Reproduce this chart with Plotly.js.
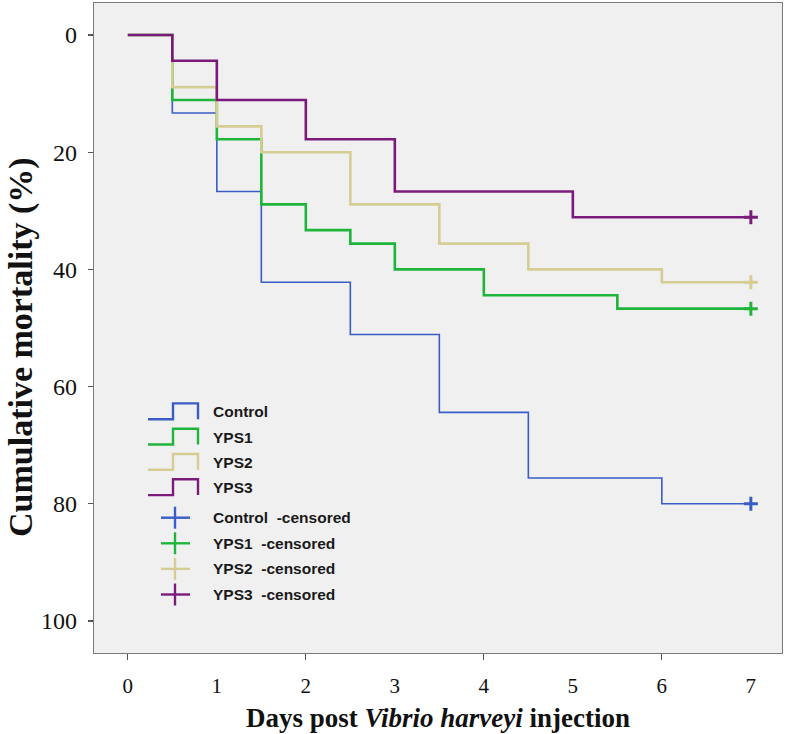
<!DOCTYPE html>
<html>
<head>
<meta charset="utf-8">
<script src="https://cdn.plot.ly/plotly-3.0.1.min.js"></script>
<style>html,body{margin:0;padding:0;background:#fff;}#chart{width:787px;height:734px;}</style>
</head>
<body>
<div id="chart"></div>
<script>
// ---- data (cumulative mortality, %) ----
const seriesNames = ["Control", "YPS1", "YPS2", "YPS3"];
const controlDays = [0, 0.5, 1, 1.5, 2.5, 3.5, 4.5, 6, 7];
const controlMort = [0, 13.3, 26.7, 42.2, 51.1, 64.4, 75.6, 80.0, 80.0];
const yps1Days = [0, 0.5, 1, 1.5, 2, 2.5, 3, 4, 5.5, 7];
const yps1Mort = [0, 11.1, 17.8, 28.9, 33.3, 35.6, 40.0, 44.4, 46.7, 46.7];
const yps2Days = [0, 0.5, 1, 1.5, 2.5, 3.5, 4.5, 6, 7];
const yps2Mort = [0, 8.9, 15.6, 20.0, 28.9, 35.6, 40.0, 42.2, 42.2];
const yps3Days = [0, 0.5, 1, 2, 3, 5, 7];
const yps3Mort = [0, 4.4, 11.1, 17.8, 26.7, 31.1, 31.1];
const censorDays = [7, 7, 7, 7];
const xTickVals = [0, 1, 2, 3, 4, 5, 6, 7];
const xMarkVals = [0, 2, 4, 6];
const yTickVals = [0, 20, 40, 60, 80, 100];

// ---- styles ----
const colors = ["#3a5cc6", "#1fb53a", "#d5cd94", "#7a1a7a"];
const widths = [1.6, 2.6, 2.6, 2.6];
const allDays = [controlDays, yps1Days, yps2Days, yps3Days];
const allMort = [controlMort, yps1Mort, yps2Mort, yps3Mort];

const W = 787, H = 734;
const L = 94, R = 782, T = 3, B = 653;
const xRange = [-0.38, 7.35];
const yRange = [105.46, -5.46];

const traces = [];
seriesNames.forEach((n, i) => {
  traces.push({
    type: "scatter", mode: "lines", name: n,
    x: allDays[i], y: allMort[i], xaxis: "x", yaxis: "y",
    line: {shape: "hv", color: colors[i], width: widths[i]},
    showlegend: false, hoverinfo: "skip"
  });
});
seriesNames.forEach((n, i) => {
  const m = allMort[i];
  traces.push({
    type: "scatter", mode: "markers", name: n + " -censored",
    x: [censorDays[i]], y: [m[m.length - 1]], xaxis: "x2", yaxis: "y",
    marker: {symbol: "cross-thin", size: 10, line: {color: colors[i], width: 3}},
    showlegend: false, hoverinfo: "skip"
  });
});

// ---- custom legend (pixel -> paper) ----
const px = v => (v - L) / (R - L);
const py = v => (B - v) / (B - T);
const shapes = [];
const annotations = [];
const legFont = {family: "Liberation Sans, Arial, sans-serif", size: 15.5, color: "#1a1a1a", weight: "bold"};
seriesNames.forEach((n, i) => {
  const ty = 411.7 + i * 25.3;
  const lo = ty + 7.5, hi = ty - 8.3;
  shapes.push({
    type: "path", xref: "paper", yref: "paper",
    path: `M${px(148)},${py(lo)} L${px(173)},${py(lo)} L${px(173)},${py(hi)} L${px(198)},${py(hi)} L${px(198)},${py(lo)}`,
    line: {color: colors[i], width: 2.4}
  });
  annotations.push({xref: "paper", yref: "paper", x: px(211), y: py(ty), xanchor: "left", yanchor: "middle",
    text: n, showarrow: false, font: legFont});
});
seriesNames.forEach((n, i) => {
  const cy = 517.7 + i * 25.6;
  shapes.push({type: "line", xref: "paper", yref: "paper", x0: px(161), x1: px(190), y0: py(cy), y1: py(cy),
    line: {color: colors[i], width: 2.4}});
  shapes.push({type: "line", xref: "paper", yref: "paper", x0: px(175), x1: px(175), y0: py(cy - 11), y1: py(cy + 11),
    line: {color: colors[i], width: 2.4}});
  annotations.push({xref: "paper", yref: "paper", x: px(211), y: py(cy), xanchor: "left", yanchor: "middle",
    text: n + "\u00a0\u00a0-censored", showarrow: false, font: legFont});
});

const serif = "Liberation Serif, Times New Roman, serif";
// y-axis title drawn as an annotation so it can be placed like the reference
annotations.push({
  xref: "paper", yref: "paper", x: px(21), y: py(347), xanchor: "center", yanchor: "middle",
  textangle: -90, showarrow: false,
  text: "<b>Cumulative mortality (%)</b>", font: {family: serif, size: 34, color: "#111"}
});

const layout = {
  width: W, height: H,
  margin: {l: L, r: W - R, t: T, b: H - B, pad: 0},
  paper_bgcolor: "#ffffff", plot_bgcolor: "#f0f0f0",
  showlegend: false,
  xaxis: {
    range: xRange, tickmode: "array", tickvals: xTickVals, ticktext: xTickVals.map(String),
    ticks: "", showgrid: false, zeroline: false,
    showline: true, mirror: true, linecolor: "#7a7a7a", linewidth: 1.2,
    tickfont: {family: serif, size: 21, color: "#111"}, ticklabelstandoff: 14,
    title: {text: "<b>Days post <i>Vibrio harveyi</i> injection</b>", font: {family: serif, size: 27, color: "#111"}, standoff: 10},
    automargin: false
  },
  xaxis2: {
    overlaying: "x", anchor: "y", side: "bottom", range: xRange,
    tickmode: "array", tickvals: xMarkVals, showticklabels: false,
    ticks: "outside", ticklen: 6, tickcolor: "#555", tickwidth: 1.2,
    showgrid: false, zeroline: false, showline: false, automargin: false
  },
  yaxis: {
    range: yRange, tickmode: "array", tickvals: yTickVals, ticktext: yTickVals.map(String),
    ticks: "outside", ticklen: 5, tickcolor: "#555", tickwidth: 1.2,
    showgrid: false, zeroline: false,
    showline: true, mirror: true, linecolor: "#7a7a7a", linewidth: 1.2,
    tickfont: {family: serif, size: 24, color: "#111"}, ticklabelstandoff: 6,
    automargin: false
  },
  shapes: shapes,
  annotations: annotations
};

Plotly.newPlot("chart", traces, layout, {displayModeBar: false, staticPlot: true});
</script>
</body>
</html>
